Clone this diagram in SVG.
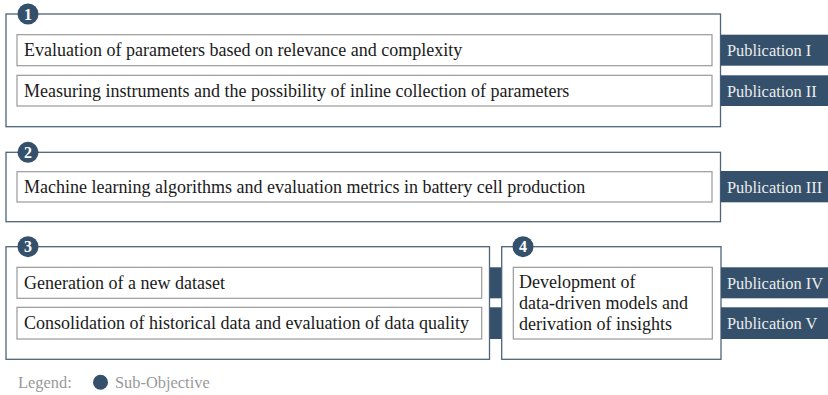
<svg xmlns="http://www.w3.org/2000/svg" width="828" height="395" viewBox="0 0 828 395">
<style>
.outer{fill:#fff;stroke:#4d6479;stroke-width:1.3}
.inner{fill:#fff;stroke:#9a9a9a;stroke-width:1.2}
.pub{fill:#34506b}
.bar{fill:#34506b}
.t{font-family:"Liberation Serif","Times New Roman",serif;font-size:18px;fill:#1a1a1a}
.pt{font-family:"Liberation Serif","Times New Roman",serif;font-size:16.4px;fill:#ececec}
.badge{fill:#34506b}
.bt{font-family:"Liberation Serif","Times New Roman",serif;font-size:16px;font-weight:bold;fill:#fff;text-anchor:middle}
.lg{font-family:"Liberation Serif","Times New Roman",serif;font-size:16.4px;fill:#999}
</style>
<g id="connectors">
<rect class="bar" x="489" y="267.3" width="13" height="31"/>
<rect class="bar" x="489" y="307.3" width="13" height="31.7"/>
</g>
<g id="obj1">
<rect class="outer" x="6" y="14" width="714.5" height="112.7"/>
<circle class="badge" cx="28" cy="14" r="10.5"/>
<text class="bt" x="28" y="19.5">1</text>
</g>
<g id="item1a">
<rect class="inner" x="17" y="34.7" width="695" height="31"/>
<text class="t" x="24" y="56.3">Evaluation of parameters based on relevance and complexity</text>
</g>
<g id="item1b">
<rect class="inner" x="17" y="75.3" width="695" height="30.7"/>
<text class="t" x="24" y="96.8">Measuring instruments and the possibility of inline collection of parameters</text>
</g>
<g id="pub1">
<rect class="pub" x="720.7" y="34.7" width="107.3" height="31"/>
<text class="pt" x="727" y="56.3">Publication I</text>
</g>
<g id="pub2">
<rect class="pub" x="720.7" y="75.3" width="107.3" height="30.7"/>
<text class="pt" x="727" y="96.8">Publication II</text>
</g>
<g id="obj2">
<rect class="outer" x="6" y="152.3" width="714.5" height="69.4"/>
<circle class="badge" cx="28" cy="152.3" r="10.5"/>
<text class="bt" x="28" y="157.8">2</text>
</g>
<g id="item2">
<rect class="inner" x="17" y="171.7" width="695" height="30.3"/>
<text class="t" x="24" y="193">Machine learning algorithms and evaluation metrics in battery cell production</text>
</g>
<g id="pub3">
<rect class="pub" x="720.7" y="171" width="107.3" height="31.3"/>
<text class="pt" x="727" y="193">Publication III</text>
</g>
<g id="obj3">
<rect class="outer" x="6" y="246.7" width="483.5" height="112.6"/>
<circle class="badge" cx="28" cy="246.7" r="10.5"/>
<text class="bt" x="28" y="252.2">3</text>
</g>
<g id="item3a">
<rect class="inner" x="17" y="267.3" width="464.7" height="31"/>
<text class="t" x="24" y="289">Generation of a new dataset</text>
</g>
<g id="item3b">
<rect class="inner" x="17" y="307.3" width="464.7" height="31.7"/>
<text class="t" x="24" y="329.3">Consolidation of historical data and evaluation of data quality</text>
</g>
<g id="obj4">
<rect class="outer" x="501.7" y="246.7" width="219.3" height="112.6"/>
<circle class="badge" cx="523" cy="246.7" r="10.5"/>
<text class="bt" x="523" y="252.2">4</text>
</g>
<g id="item4">
<rect class="inner" x="513.3" y="267.3" width="199" height="71.7"/>
<text class="t" x="519" y="288.3">Development of</text>
<text class="t" x="519" y="309.3">data-driven models and</text>
<text class="t" x="519" y="330.3">derivation of insights</text>
</g>
<g id="pub4">
<rect class="pub" x="721" y="267.3" width="107" height="31"/>
<text class="pt" x="727" y="289">Publication IV</text>
</g>
<g id="pub5">
<rect class="pub" x="721" y="307.3" width="107" height="31.7"/>
<text class="pt" x="727" y="329.3">Publication V</text>
</g>
<g id="legend">
<text class="lg" x="18" y="387.5">Legend:</text>
<circle class="badge" cx="100.5" cy="382.3" r="7.5"/>
<text class="lg" x="115" y="387.5">Sub-Objective</text>
</g>
</svg>
